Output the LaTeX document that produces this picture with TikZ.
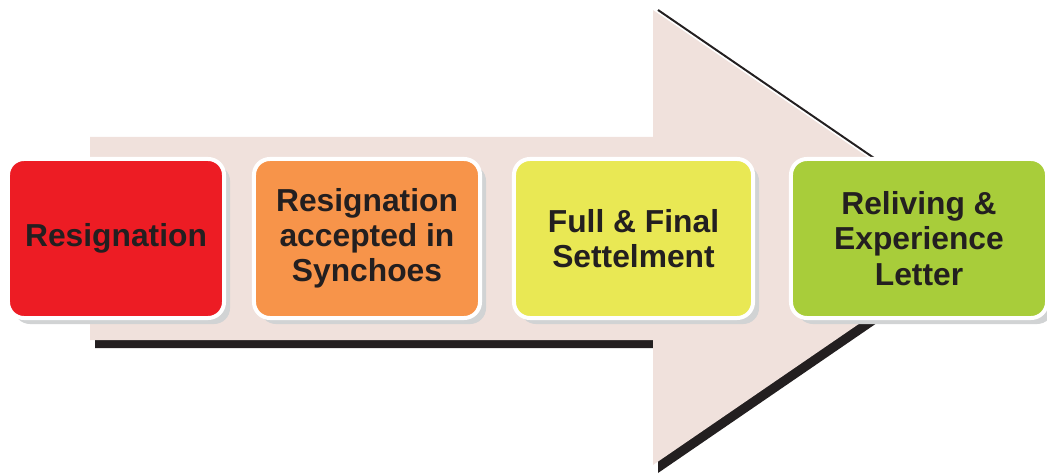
\documentclass[tikz,border=0pt]{standalone}
\usepackage{fontspec}
\setmainfont{Liberation Sans}
\usetikzlibrary{shadows}
\definecolor{flowbg}{HTML}{F0E1DC}
\definecolor{flowdark}{HTML}{231F20}
\definecolor{flowred}{HTML}{ED1C24}
\definecolor{floworange}{HTML}{F7944A}
\definecolor{flowyellow}{HTML}{E9E854}
\definecolor{flowgreen}{HTML}{A8CD3A}
\definecolor{flowshadow}{HTML}{D1D3D4}
\begin{document}
\begin{tikzpicture}[x=0.025cm,y=0.025cm,
  stage/.style={rectangle,rounded corners=0.4cm,draw=white,line width=0.1cm,
                minimum height=3.975cm,inner sep=0pt,align=center,
                font=\fontsize{22.6}{25}\selectfont\bfseries,text=flowdark,
                drop shadow={shadow xshift=0.15cm,shadow yshift=-0.15cm,
                             fill=flowshadow,opacity=1}}
]
  \useasboundingbox (0,0) rectangle (1047,475);

  % ---- Big background arrow ----------------------------------
  % dark shadow under the arrow
  \fill[flowdark,shift={(5,-8)}]
    (90,338) -- (653,338) -- (653,465) -- (985,237.5)
    -- (653,10) -- (653,135) -- (90,135) -- cycle;
  % thin dark edge along the upper side of the head
  \draw[flowdark,line width=1.4pt] (658,465) -- (990,237.5);
  % arrow body
  \fill[flowbg]
    (90,338) -- (653,338) -- (653,465) -- (985,237.5)
    -- (653,10) -- (653,135) -- (90,135) -- cycle;

  % ---- Four stages ---------------------------------------------
  % 1. Resignation
  \node[stage,fill=flowred,minimum width=5.4cm] (resign) at (116,236.5)
    {Resignation};

  % 2. Accepted in Synchoes
  \node[stage,fill=floworange,minimum width=5.65cm] (accept) at (367,236.5)
    {Resignation\\accepted in\\Synchoes};

  % 3. Full & Final Settelment
  \node[stage,fill=flowyellow,minimum width=5.975cm] (settle) at (633.5,236.5)
    {Full \& Final\\Settelment};

  % 4. Reliving & Experience Letter
  \node[stage,fill=flowgreen,minimum width=6.4cm] (letter) at (919,236.5)
    {Reliving \&\\Experience\\Letter};

\end{tikzpicture}
\end{document}
